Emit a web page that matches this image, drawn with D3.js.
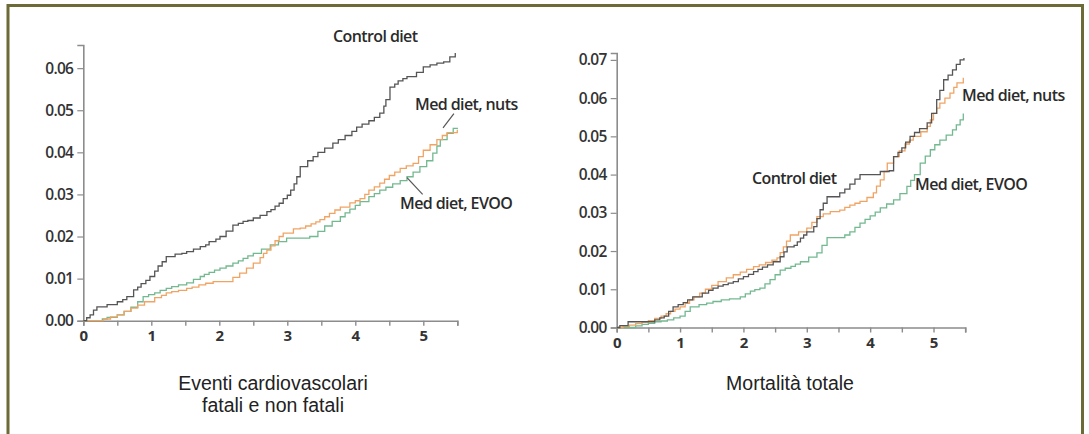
<!DOCTYPE html>
<html><head><meta charset="utf-8">
<script src="https://cdn.jsdelivr.net/npm/d3@7"></script>
<style>
html,body{margin:0;padding:0;background:#fff;}
svg{display:block;}
</style></head>
<body>
<svg id="chart" width="1089" height="434"></svg>
<script>
// ---- data ----
const xTicks = [0, 1, 2, 3, 4, 5];
const xMinorTicks = [0, 0.5, 1, 1.5, 2, 2.5, 3, 3.5, 4, 4.5, 5, 5.5];
const yTicksLeft = [0, 0.01, 0.02, 0.03, 0.04, 0.05, 0.06];
const yTicksRight = [0, 0.01, 0.02, 0.03, 0.04, 0.05, 0.06, 0.07];
const seriesNames = ["Control diet", "Med diet, nuts", "Med diet, EVOO"];
const seriesColors = ["#555555", "#f0a464", "#72b98f"];
const panelTitles = [["Eventi cardiovascolari", "fatali e non fatali"], ["Mortalità totale"]];

// Left panel: cardiovascular events (time in years, cumulative incidence)
const cvControl = [[0,0],[0.05,0.0007],[0.1,0.0014],[0.15,0.0025],[0.2,0.0033],[0.35,0.0038],[0.5,0.0045],[0.58,0.005],[0.64,0.0057],[0.74,0.0073],[0.8,0.008],[0.85,0.0088],[0.92,0.0096],[0.98,0.0105],[1.05,0.0118],[1.1,0.013],[1.16,0.014],[1.22,0.0152],[1.35,0.0158],[1.45,0.016],[1.52,0.0164],[1.62,0.017],[1.72,0.0176],[1.8,0.018],[1.85,0.0188],[1.95,0.0194],[2.01,0.02],[2.1,0.0213],[2.2,0.0227],[2.28,0.0231],[2.35,0.0236],[2.42,0.0238],[2.5,0.0244],[2.6,0.025],[2.7,0.0259],[2.76,0.0264],[2.82,0.0272],[2.88,0.0279],[2.94,0.029],[3.0,0.0298],[3.05,0.031],[3.1,0.0325],[3.14,0.0342],[3.19,0.0366],[3.3,0.038],[3.38,0.039],[3.45,0.04],[3.55,0.041],[3.67,0.0422],[3.75,0.043],[3.85,0.044],[3.95,0.045],[4.02,0.046],[4.1,0.0467],[4.2,0.0475],[4.28,0.0483],[4.36,0.0493],[4.42,0.051],[4.45,0.0525],[4.51,0.0555],[4.58,0.0562],[4.63,0.057],[4.7,0.0575],[4.76,0.058],[4.9,0.059],[5.0,0.0603],[5.1,0.0608],[5.2,0.0612],[5.3,0.0615],[5.39,0.0627],[5.47,0.0636]];
const cvNuts = [[0,0],[0.2,0],[0.3,0.0004],[0.4,0.0009],[0.5,0.0014],[0.6,0.0022],[0.7,0.003],[0.8,0.0037],[0.9,0.0045],[1.05,0.0055],[1.15,0.006],[1.22,0.0066],[1.3,0.0069],[1.4,0.0072],[1.52,0.0077],[1.6,0.008],[1.7,0.0085],[1.8,0.0089],[1.91,0.0093],[2.1,0.0093],[2.2,0.0103],[2.3,0.0113],[2.4,0.0125],[2.5,0.0137],[2.6,0.015],[2.65,0.016],[2.7,0.0168],[2.76,0.0178],[2.82,0.019],[2.88,0.02],[2.94,0.0208],[3.09,0.0218],[3.19,0.022],[3.27,0.0225],[3.35,0.023],[3.42,0.0235],[3.48,0.024],[3.55,0.0247],[3.62,0.0255],[3.7,0.0263],[3.78,0.027],[3.92,0.028],[4.0,0.0285],[4.07,0.029],[4.14,0.03],[4.2,0.031],[4.28,0.0318],[4.36,0.0327],[4.43,0.0336],[4.5,0.0345],[4.58,0.0353],[4.66,0.0362],[4.75,0.0368],[4.85,0.0374],[4.93,0.039],[5.0,0.0405],[5.1,0.0418],[5.2,0.043],[5.28,0.044],[5.35,0.0447],[5.5,0.0453]];
const cvEvoo = [[0,0],[0.2,0],[0.28,0.0004],[0.35,0.0008],[0.5,0.0014],[0.6,0.0022],[0.7,0.0032],[0.8,0.0045],[0.88,0.0057],[0.96,0.0062],[1.05,0.0066],[1.13,0.0072],[1.22,0.0077],[1.3,0.0081],[1.4,0.0085],[1.52,0.009],[1.62,0.0098],[1.72,0.0105],[1.78,0.011],[1.85,0.0115],[1.93,0.012],[2.01,0.0125],[2.1,0.013],[2.2,0.0137],[2.28,0.0142],[2.35,0.0148],[2.42,0.0154],[2.5,0.016],[2.62,0.017],[2.75,0.018],[2.87,0.0188],[2.99,0.0196],[3.15,0.0196],[3.33,0.02],[3.45,0.0212],[3.55,0.0225],[3.66,0.0236],[3.78,0.0247],[3.85,0.0256],[3.92,0.0265],[4.0,0.0274],[4.07,0.0283],[4.2,0.0295],[4.28,0.0302],[4.36,0.031],[4.45,0.0317],[4.55,0.0325],[4.66,0.0333],[4.76,0.0342],[4.85,0.0353],[4.95,0.0366],[5.05,0.038],[5.14,0.0398],[5.2,0.0415],[5.25,0.043],[5.35,0.0445],[5.44,0.0457],[5.5,0.0455]];

// Right panel: total mortality
const mtControl = [[0,0],[0.05,0.0005],[0.18,0.0015],[0.5,0.0015],[0.6,0.002],[0.68,0.0025],[0.75,0.003],[0.82,0.0042],[0.89,0.0054],[0.97,0.006],[1.05,0.0065],[1.12,0.0072],[1.2,0.008],[1.35,0.009],[1.45,0.0097],[1.52,0.0103],[1.6,0.0108],[1.68,0.0112],[1.76,0.0116],[1.84,0.012],[1.92,0.0127],[2.0,0.0133],[2.08,0.0139],[2.16,0.0146],[2.23,0.0152],[2.3,0.0158],[2.38,0.0164],[2.47,0.0172],[2.58,0.0185],[2.64,0.0198],[2.69,0.0211],[2.8,0.0215],[2.85,0.0224],[2.9,0.0234],[2.95,0.0242],[3.0,0.025],[3.11,0.0264],[3.16,0.0285],[3.21,0.0308],[3.26,0.0325],[3.32,0.0342],[3.52,0.0352],[3.6,0.0362],[3.68,0.0375],[3.76,0.0388],[3.84,0.04],[4.16,0.0408],[4.3,0.041],[4.37,0.0447],[4.44,0.0458],[4.5,0.047],[4.56,0.0485],[4.63,0.05],[4.7,0.051],[4.78,0.052],[4.9,0.0535],[4.97,0.056],[5.05,0.0596],[5.1,0.062],[5.16,0.0648],[5.23,0.066],[5.3,0.0674],[5.36,0.0688],[5.42,0.07],[5.48,0.0705]];
const mtNuts = [[0,0],[0.1,0.0003],[0.2,0.0006],[0.3,0.001],[0.4,0.0014],[0.5,0.0018],[0.6,0.0024],[0.7,0.003],[0.78,0.0036],[0.85,0.0042],[0.92,0.0048],[1.0,0.0054],[1.08,0.0063],[1.15,0.0072],[1.22,0.008],[1.31,0.009],[1.4,0.01],[1.5,0.011],[1.6,0.012],[1.73,0.013],[1.84,0.0138],[1.95,0.0145],[2.05,0.0152],[2.16,0.0159],[2.25,0.0164],[2.35,0.017],[2.45,0.0176],[2.53,0.0182],[2.58,0.0196],[2.63,0.0211],[2.68,0.0226],[2.74,0.0242],[2.87,0.025],[3.0,0.026],[3.08,0.0275],[3.16,0.029],[3.26,0.0297],[3.37,0.0303],[3.52,0.0307],[3.6,0.0314],[3.68,0.032],[3.76,0.0325],[3.84,0.033],[3.95,0.034],[4.05,0.0352],[4.1,0.037],[4.16,0.0386],[4.22,0.0408],[4.27,0.043],[4.37,0.0447],[4.46,0.0462],[4.55,0.048],[4.62,0.049],[4.68,0.05],[4.8,0.0512],[4.9,0.0526],[4.95,0.0543],[5.0,0.056],[5.05,0.0574],[5.1,0.0587],[5.18,0.06],[5.26,0.0613],[5.32,0.0628],[5.37,0.064],[5.47,0.0653]];
const mtEvoo = [[0,0],[0.2,0],[0.3,0.0004],[0.4,0.0008],[0.5,0.0011],[0.6,0.0015],[0.7,0.0017],[0.8,0.002],[0.9,0.0025],[1.0,0.003],[1.08,0.0042],[1.16,0.0054],[1.3,0.006],[1.42,0.0064],[1.52,0.0068],[1.65,0.0072],[1.78,0.0075],[1.95,0.008],[2.03,0.0088],[2.11,0.0095],[2.18,0.0099],[2.26,0.0103],[2.34,0.0114],[2.42,0.0125],[2.5,0.0138],[2.58,0.015],[2.66,0.0155],[2.75,0.016],[2.82,0.0166],[2.9,0.0172],[3.03,0.0184],[3.16,0.0195],[3.24,0.0215],[3.32,0.0235],[3.52,0.0235],[3.6,0.0242],[3.68,0.025],[3.76,0.0262],[3.84,0.0273],[3.92,0.0283],[4.0,0.0292],[4.08,0.0302],[4.16,0.0313],[4.26,0.0323],[4.37,0.0334],[4.47,0.035],[4.58,0.0369],[4.64,0.0385],[4.7,0.04],[4.79,0.043],[4.87,0.0448],[4.95,0.0465],[5.02,0.0478],[5.1,0.049],[5.2,0.0503],[5.3,0.0517],[5.36,0.053],[5.42,0.0543],[5.47,0.056]];

// ---- drawing ----
const svg = d3.select("#chart");
svg.append("rect").attr("x",0).attr("y",0).attr("width",1089).attr("height",434).attr("fill","#fff");
// frame
svg.append("path").attr("d","M8,440V5.5H1082.5V440").attr("fill","none").attr("stroke","#6c6a36").attr("stroke-width",3);

const tickFont = "'Open Sans', sans-serif";
const panels = [
  {x0:83.3, x1:457.3, yBase:320.7, yTop:45, yMax:0.0655, yTicks:yTicksLeft,
   series:[cvControl, cvNuts, cvEvoo], titles:panelTitles[0], titleX:273,
   labels:[{t:"Control diet",x:333,y:42},{t:"Med diet, nuts",x:415,y:110},{t:"Med diet, EVOO",x:400,y:209}],
   leaders:[[[5.45,0.0492],[5.29,0.0458]],[[4.99,0.0300],[4.76,0.0340]]]},
  {x0:616.7, x1:965.2, yBase:327.5, yTop:53, yMax:0.0718, yTicks:yTicksRight,
   series:[mtControl, mtNuts, mtEvoo], titles:panelTitles[1], titleX:790,
   labels:[{t:"Control diet",x:752,y:184},{t:"Med diet, nuts",x:962,y:101},{t:"Med diet, EVOO",x:915,y:190}],
   leaders:[]}
];

panels.forEach(p => {
  const x = d3.scaleLinear().domain([0,5.5]).range([p.x0,p.x1]);
  const y = d3.scaleLinear().domain([0,p.yMax]).range([p.yBase,p.yTop]);
  const g = svg.append("g");

  // x axis: ticks every 0.5, labels on integers
  const xa = g.append("g").attr("transform",`translate(0,${p.yBase})`)
    .call(d3.axisBottom(x).tickValues(xMinorTicks).tickSizeOuter(0).tickSize(5)
      .tickFormat(d => xTicks.includes(d) ? d3.format("d")(d) : ""));
  xa.select(".domain").attr("stroke","#8c8c8c").attr("stroke-width",1.6);
  xa.selectAll(".tick line").attr("stroke","#8c8c8c").attr("stroke-width",1.4);
  xa.selectAll(".tick text").attr("font-family",tickFont).attr("font-weight",700)
    .attr("font-size",15).attr("fill","#333").attr("dy","0.85em");

  const ya = g.append("g").attr("transform",`translate(${p.x0},0)`)
    .call(d3.axisLeft(y).tickValues(p.yTicks).tickSizeOuter(0).tickSize(6).tickPadding(4)
      .tickFormat(d3.format(".2f")));
  ya.select(".domain").attr("stroke","#8c8c8c").attr("stroke-width",1.6);
  ya.selectAll(".tick line").attr("stroke","#8c8c8c").attr("stroke-width",1.2);
  ya.selectAll(".tick text").attr("font-family",tickFont).attr("font-weight",600)
    .attr("font-size",15.5).attr("fill","#333").attr("letter-spacing","-0.7px");

  const line = d3.line().x(d=>x(d[0])).y(d=>y(d[1])).curve(d3.curveStepAfter);
  // draw order: EVOO, nuts, control
  [2,1,0].forEach(i => {
    g.append("path").datum(p.series[i]).attr("d",line).attr("fill","none")
      .attr("stroke",seriesColors[i]).attr("stroke-width",1.3).attr("stroke-linejoin","miter");
  });

  p.leaders.forEach(l => {
    g.append("line").attr("x1",x(l[0][0])).attr("y1",y(l[0][1])).attr("x2",x(l[1][0])).attr("y2",y(l[1][1]))
      .attr("stroke","#555").attr("stroke-width",1.2);
  });

  p.labels.forEach(l => {
    g.append("text").attr("x",l.x).attr("y",l.y).text(l.t)
      .attr("font-family",tickFont).attr("font-weight",600).attr("font-size",16)
      .attr("letter-spacing","-0.6px").attr("fill","#2b2b2b");
  });

  p.titles.forEach((t,i) => {
    g.append("text").attr("x",p.titleX).attr("y",390+i*22).attr("text-anchor","middle").text(t)
      .attr("font-family","'Liberation Sans', Arial, sans-serif").attr("font-size",19.5).attr("fill","#222");
  });
});
</script>
</body></html>
